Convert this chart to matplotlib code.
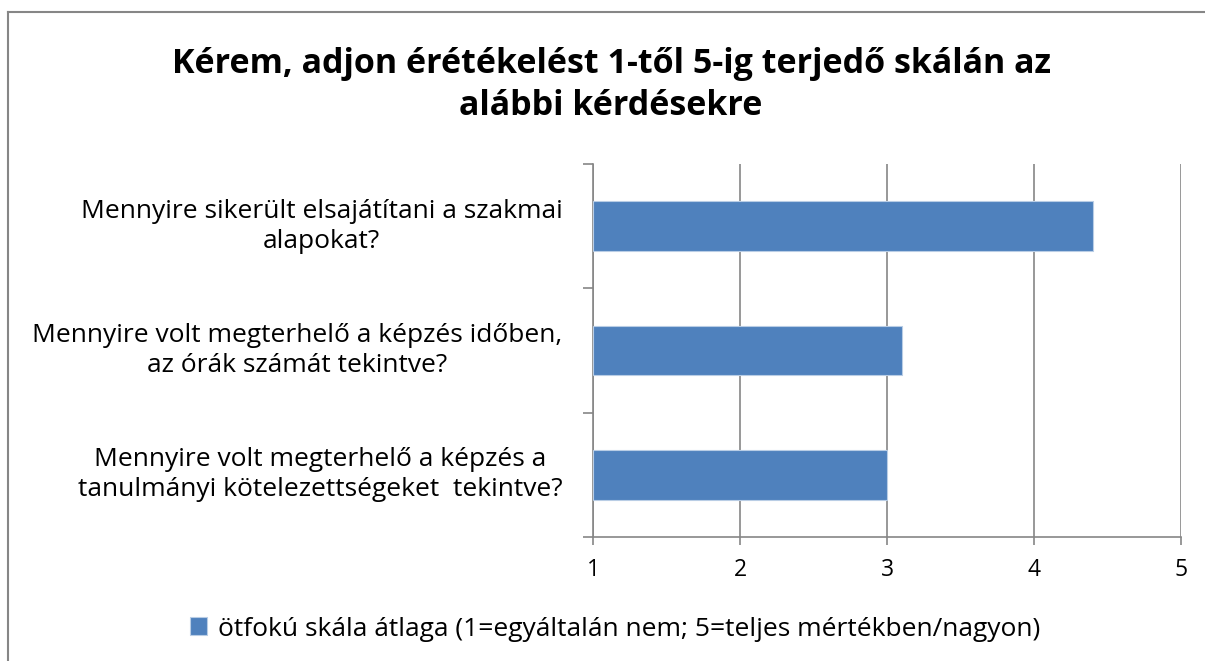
import matplotlib.pyplot as plt
from matplotlib.lines import Line2D

plt.rcParams['font.family'] = ['Open Sans', 'DejaVu Sans']

questions = [
    "Mennyire sikerült elsajátítani a szakmai\nalapokat?",
    "Mennyire volt megterhelő a képzés időben,\naz órák számát tekintve?",
    "Mennyire volt megterhelő a képzés a\ntanulmányi kötelezettségeket  tekintve?",
]
means = [4.4, 3.1, 3.0]
xticks = [1, 2, 3, 4, 5]
title = "Kérem, adjon érétékelést 1-től 5-ig terjedő skálán az\nalábbi kérdésekre"
legend_label = "ötfokú skála átlaga (1=egyáltalán nem; 5=teljes mértékben/nagyon)"

bar_color = "#4f81bd"
grid_color = "#868686"

fig = plt.figure(figsize=(12.05, 6.61), dpi=100)
ax = fig.add_axes([0.4921, 0.1876, 0.4880, 0.5643])

ypos = list(range(len(questions)))
ax.barh(ypos, [m - 1 for m in means], left=1, height=0.4, color=bar_color,
        edgecolor="#b9cde5", linewidth=0.8, label=legend_label, zorder=3)

ax.set_xlim(1, 5)
ax.set_ylim(len(questions) - 0.5, -0.5)
ax.set_xticks(xticks)
ax.set_xticklabels([str(t) for t in xticks], fontsize=16.5)
ax.set_yticks([i - 0.5 for i in range(len(questions) + 1)])
ax.set_yticklabels([])
ax.tick_params(axis='both', direction='out', color=grid_color, width=1.2)
ax.tick_params(axis='y', length=7)
ax.tick_params(axis='x', length=6, pad=9)
ax.grid(axis='x', color=grid_color, linewidth=1.2, zorder=0)
for s in ['top', 'right']:
    ax.spines[s].set_visible(False)
for s in ['left', 'bottom']:
    ax.spines[s].set_color(grid_color)
    ax.spines[s].set_linewidth(1.2)

for y, q in zip(ypos, questions):
    ax.text(-0.052, y, q, transform=ax.get_yaxis_transform(), ha='right',
            va='center', multialignment='center', fontsize=19, linespacing=1.25)

fig.text(611 / 1205, 1 - 85 / 661, title, ha='center', va='center',
         fontsize=24.5, fontweight='bold', linespacing=1.3)

fig.legend(loc='center', bbox_to_anchor=(615 / 1205, 1 - 629 / 661),
           frameon=False, fontsize=19, handlelength=0.65, handleheight=0.65,
           handletextpad=0.4)

# chart border (only top and left visible in the crop)
fig.add_artist(Line2D([8 / 1205, 1], [1 - 12 / 661, 1 - 12 / 661],
                      transform=fig.transFigure, color="#868686", linewidth=1.5))
fig.add_artist(Line2D([8 / 1205, 8 / 1205], [0, 1 - 12 / 661],
                      transform=fig.transFigure, color="#868686", linewidth=1.5))

fig.savefig("out.png", dpi=100)
